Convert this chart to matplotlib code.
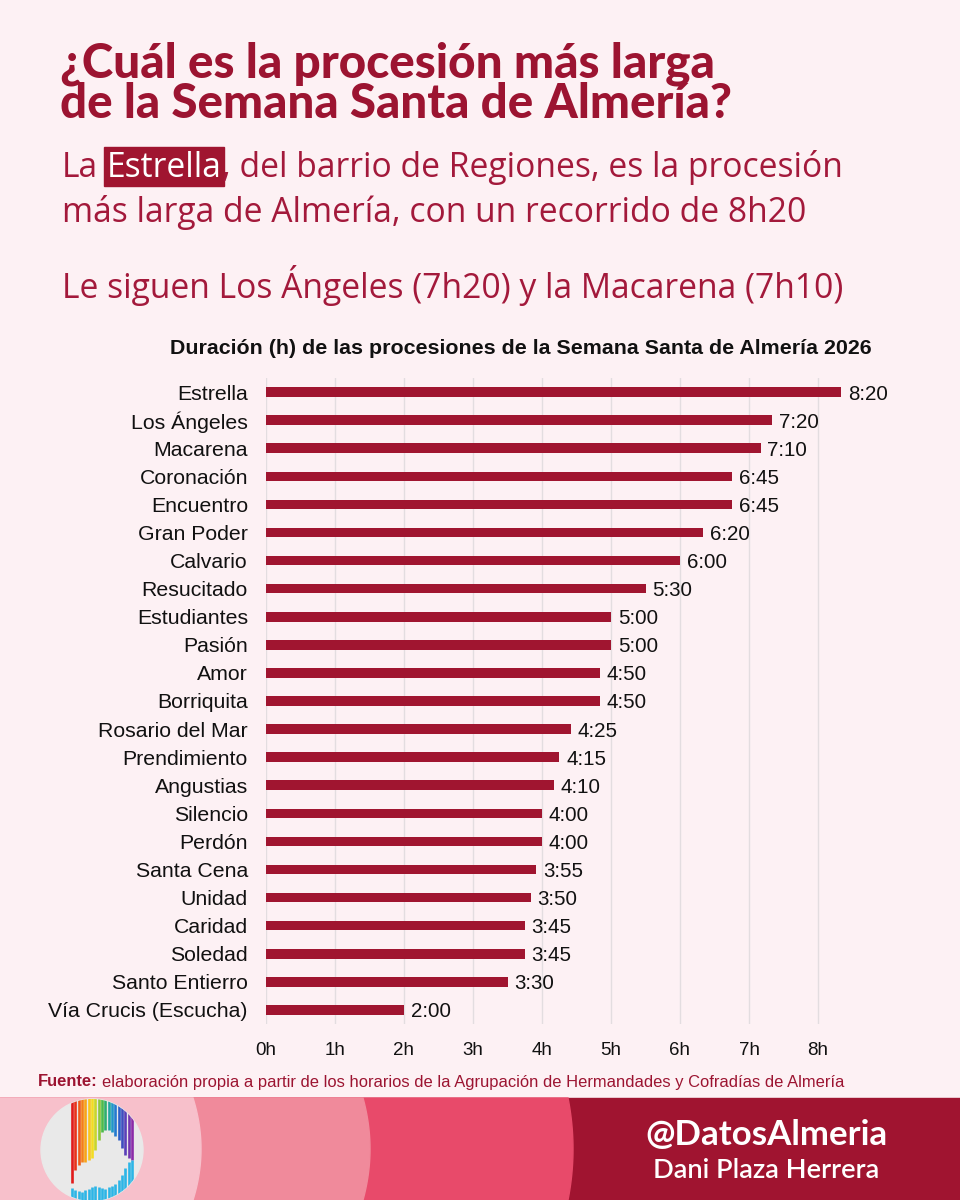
import matplotlib
matplotlib.use("Agg")
import matplotlib.pyplot as plt
import numpy as np
from matplotlib.patches import Polygon, Circle, Rectangle

# ---------------- data ----------------
procesiones = ["Estrella", "Los Ángeles", "Macarena", "Coronación", "Encuentro",
               "Gran Poder", "Calvario", "Resucitado", "Estudiantes", "Pasión",
               "Amor", "Borriquita", "Rosario del Mar", "Prendimiento", "Angustias",
               "Silencio", "Perdón", "Santa Cena", "Unidad", "Caridad", "Soledad",
               "Santo Entierro", "Vía Crucis (Escucha)"]
duraciones = ["8:20", "7:20", "7:10", "6:45", "6:45", "6:20", "6:00", "5:30",
              "5:00", "5:00", "4:50", "4:50", "4:25", "4:15", "4:10", "4:00",
              "4:00", "3:55", "3:50", "3:45", "3:45", "3:30", "2:00"]
horas_ticks = [0, 1, 2, 3, 4, 5, 6, 7, 8]
etiquetas_ticks = ["0h", "1h", "2h", "3h", "4h", "5h", "6h", "7h", "8h"]

valores = [int(d.split(":")[0]) + int(d.split(":")[1]) / 60 for d in duraciones]

# decorative logo bars (pixel ends)
logo_top_end = [1183, 1170, 1165, 1162, 1162, 1160, 1158, 1150, 1140, 1132,
                1130, 1130, 1132, 1136, 1140, 1148, 1155, 1158, 1160]
logo_bottom_start = [1188, 1190, 1191, 1192, 1190, 1189, 1187, 1186, 1187, 1188,
                     1189, 1187, 1186, 1184, 1180, 1175, 1168, 1162, 1160]
logo_colors = ["#e11b1b", "#e8331a", "#ef5a18", "#f47f17", "#f7a418", "#f9c51c",
               "#f3dc22", "#c9d62a", "#8cc63f", "#4dbb4a", "#2fae6e", "#22a6a0",
               "#1f96c8", "#2379cf", "#2c5fc8", "#3e4cbf", "#5a3fb8", "#7234b0",
               "#8a2ca8"]

# ---------------- style ----------------
W, H = 960, 1200
BG = "#fdf1f4"
RED = "#a01530"
TITLE_RED = "#9c1431"
SUB_RED = "#a3193b"
SUB_FONT = "Open Sans"

fig = plt.figure(figsize=(9.6, 12), dpi=100)
fig.patch.set_facecolor(BG)
renderer = fig.canvas.get_renderer()


def fy(y):
    return 1 - y / H


def text_width(s, **kw):
    t = fig.text(0, 0, s, **kw)
    w = t.get_window_extent(renderer).width
    t.remove()
    return w


def fit_text(x, y, s, width, **kw):
    fs = kw.pop("fontsize", 12)
    w = text_width(s, fontsize=fs, **kw)
    return fig.text(x / W, fy(y), s, fontsize=fs * width / w, **kw)


# background overlay axes in pixel coords
bg = fig.add_axes([0, 0, 1, 1], zorder=0)
bg.set_xlim(0, W)
bg.set_ylim(H, 0)
bg.axis("off")

# bottom band
band_top, band_bot = 1098, 1200
bg.add_patch(Rectangle((0, band_top), W, band_bot - band_top, color="#a01430", zorder=1))
ys = np.linspace(band_top, band_bot, 60)
ymid = (band_top + band_bot) / 2
half = (band_bot - band_top) / 2
for x0, bulge, col in [(568, 5, "#e84a6a"), (363, 7, "#f08a9b"), (193, 8, "#f7c0cb")]:
    xs = x0 + bulge * (1 - ((ys - ymid) / half) ** 2)
    pts = [(0, band_top)] + list(zip(xs, ys)) + [(0, band_bot)]
    bg.add_patch(Polygon(pts, closed=True, color=col, zorder=2))

# logo
circ = Circle((92, 1150), 51, color="#e9e9e9", zorder=3)
bg.add_patch(circ)
n_logo = len(logo_top_end)
xs_logo = np.linspace(72, 132, n_logo)
for i in range(n_logo):
    l1 = bg.plot([xs_logo[i], xs_logo[i]], [band_top, logo_top_end[i]],
                 color=logo_colors[i], lw=1.9, solid_capstyle="butt", zorder=4)[0]
    l1.set_clip_path(circ)
    l2 = bg.plot([xs_logo[i], xs_logo[i]], [logo_bottom_start[i], band_bot],
                 color="#2cb5e6", lw=1.9, solid_capstyle="butt", zorder=4)[0]
    l2.set_clip_path(circ)

# ---------------- titles ----------------
fit_text(60, 77, "¿Cuál es la procesión más larga", 654, fontsize=30,
         family="Lato", weight="black", color=TITLE_RED, va="baseline")
fit_text(60, 118, "de la Semana Santa de Almería?", 672, fontsize=30,
         family="Lato", weight="black", color=TITLE_RED, va="baseline")

line1 = "La Estrella, del barrio de Regiones, es la procesión"
fs0 = 20
w_full = text_width(line1, fontsize=fs0, family=SUB_FONT)
fs_sub = fs0 * 780 / w_full
kw_sub = dict(fontsize=fs_sub, family=SUB_FONT)
wa = text_width("La Estrella", **kw_sub)
wb = text_width("Estrella", **kw_sub)
x_e = 62 + (wa - wb)
fig.text(62 / W, fy(177), "La", color=SUB_RED, va="baseline", **kw_sub)
bg.add_patch(Rectangle((x_e - 3, 147), wb + 5, 39, color=RED, zorder=5))
fig.text(x_e / W, fy(177), "Estrella", color="white", va="baseline", zorder=6, **kw_sub)
fig.text((62 + wa) / W, fy(177), ", del barrio de Regiones, es la procesión",
         color=SUB_RED, va="baseline", **kw_sub)

fig.text(62 / W, fy(222), "más larga de Almería, con un recorrido de 8h20",
         color=SUB_RED, va="baseline", **kw_sub)
fig.text(62 / W, fy(298), "Le siguen Los Ángeles (7h20) y la Macarena (7h10)",
         color=SUB_RED, va="baseline", **kw_sub)

# chart title
fit_text(521, 348, "Duración (h) de las procesiones de la Semana Santa de Almería 2026",
         696, fontsize=13.5, family="Liberation Sans", weight="bold", color="#111111",
         ha="center", va="center")

# ---------------- chart ----------------
ax_left, ax_top, ax_bot = 266, 378, 1024
xmax = 8.6
px_per_h = 69
ax = fig.add_axes([ax_left / W, fy(ax_bot), xmax * px_per_h / W, (ax_bot - ax_top) / H], zorder=2)
ax.set_facecolor("none")
n = len(procesiones)
ypos = np.arange(n)
ax.barh(ypos, valores, height=0.34, color=RED, zorder=3)
ax.set_ylim(n - 0.5, -0.5)
ax.set_xlim(0, xmax)
ax.set_yticks(ypos)
ax.set_yticklabels(procesiones, family="Liberation Sans", fontsize=15.3, color="#111111")
ax.set_xticks(horas_ticks)
ax.set_xticklabels(etiquetas_ticks, family="Liberation Sans", fontsize=13.5, color="#111111")
ax.tick_params(axis="both", length=0)
ax.tick_params(axis="y", pad=13)
ax.tick_params(axis="x", pad=13)
for lab in ax.get_yticklabels():
    lab.set_verticalalignment("center_baseline")
ax.grid(axis="x", color="#e3dde0", lw=1, zorder=0)
ax.set_axisbelow(True)
for s in ax.spines.values():
    s.set_visible(False)
for yv, v, lab in zip(ypos, valores, duraciones):
    ax.text(v + 0.1, yv, lab, va="center_baseline", ha="left", family="Liberation Sans",
            fontsize=14.8, color="#111111", zorder=4)

# ---------------- source ----------------
src_rest = "elaboración propia a partir de los horarios de la Agrupación de Hermandades y Cofradías de Almería"
kw_src = dict(family="Liberation Sans", color=TITLE_RED, va="center")
w_tot = text_width("Fuente:", weight="bold", fontsize=11, family="Liberation Sans") + \
    text_width(src_rest, fontsize=11, family="Liberation Sans")
fs_src = 11 * 795 / w_tot
tf = fig.text(38 / W, fy(1082), "Fuente:", weight="bold", fontsize=fs_src, **kw_src)
wf = tf.get_window_extent(renderer).width
fig.text((38 + wf + 4) / W, fy(1082), src_rest, fontsize=fs_src, **kw_src)

# ---------------- footer ----------------
fit_text(766, 1135, "@DatosAlmeria", 242, fontsize=22, family="Lato", weight="bold",
         color="white", ha="center", va="center")
fit_text(766, 1170, "Dani Plaza Herrera", 227, fontsize=17, family="Lato",
         weight="semibold", color="white", ha="center", va="center")

fig.savefig("out.png", dpi=100, facecolor=BG)
